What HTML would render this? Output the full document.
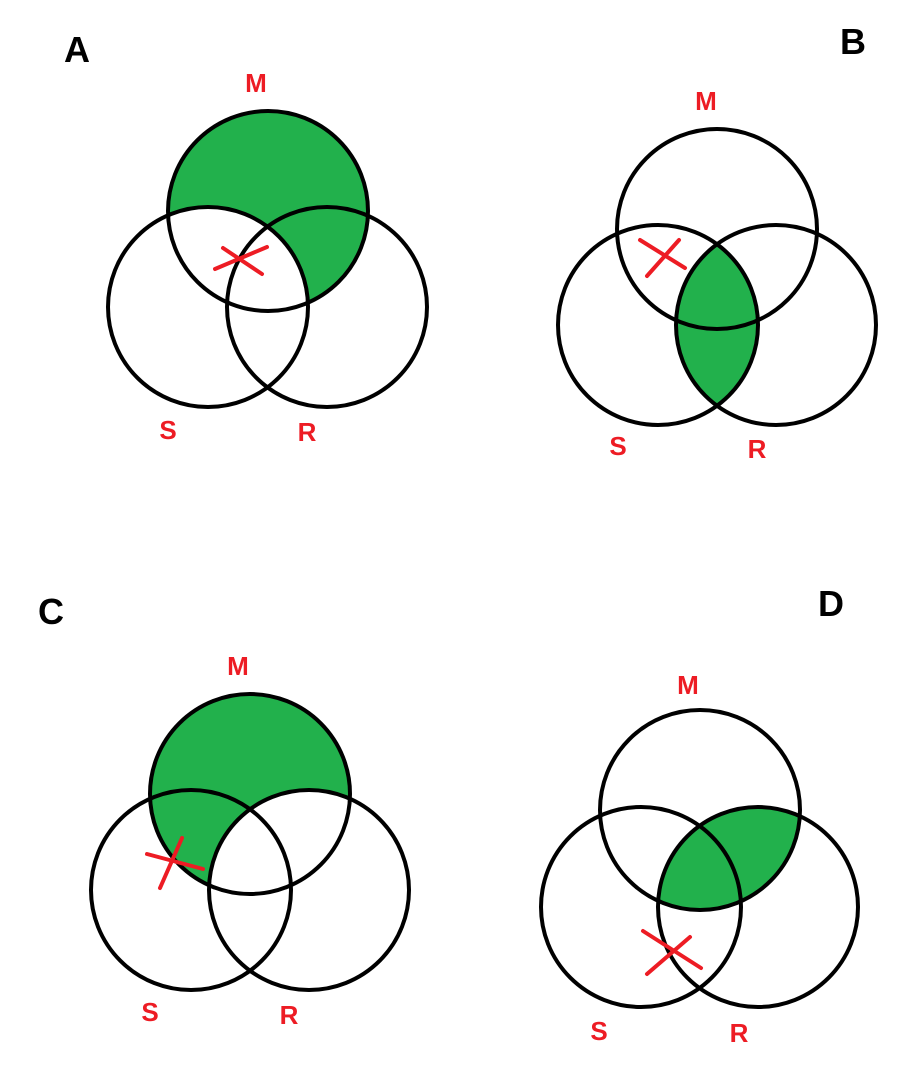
<!DOCTYPE html>
<html><head><meta charset="utf-8"><style>
html,body{margin:0;padding:0;background:#fff;}
svg{display:block;}
text{font-family:"Liberation Sans",Arial,sans-serif;font-weight:bold;}
</style></head><body>
<svg id="s" width="915" height="1079" viewBox="0 0 915 1079"></svg>
<script>
// Panels: circle centers (M, S, R), radius, shading type, X mark
const panelNames = ["A","B","C","D"];
const centersM = [[268,211],[717,229],[250,794],[700,810]];
const centersS = [[208,307],[658,325],[191,890],[641,907]];
const centersR = [[327,307],[776,325],[309,890],[758,907]];
const radius = 100;
const shading = ["M-S","S&R","M-R","M&R"];
const xMarks = [
  [[223,248,262,274],[215,269,267,247]],
  [[640,240,685,268],[647,276,679,240]],
  [[147,854,203,869],[182,838,160,888]],
  [[643,931,701,968],[647,974,690,937]]
];
const letterPos = [[77,62],[853,54],[51,624],[831,616]];
const labelM = [[256,92],[706,110],[238,675],[688,694]];
const labelS = [[168,439],[618,455],[150,1021],[599,1040]];
const labelR = [[307,441],[757,458],[289,1024],[739,1042]];

const NS="http://www.w3.org/2000/svg";
const svg=document.getElementById('s');
function mk(tag,attrs,parent){const e=document.createElementNS(NS,tag);for(const k in attrs)e.setAttribute(k,attrs[k]);(parent||svg).appendChild(e);return e;}
const defs=mk('defs',{});
const GREEN="#22b14c", RED="#ed1c24";
panelNames.forEach((p,i)=>{
  const g=mk('g',{});
  
  
  const C={M:centersM[i],S:centersS[i],R:centersR[i]};
  const sh=shading[i];
  if(sh.includes('-')){
    const [a,b]=sh.split('-');
    const f=mk('circle',{cx:C[a][0],cy:C[a][1],r:radius,fill:GREEN},g);
    
    
    mk('circle',{cx:C[b][0],cy:C[b][1],r:radius,fill:'#fff'},g);
  } else {
    const [a,b]=sh.split('&');
    const cp=mk('clipPath',{id:'cp'+i},defs);
    mk('circle',{cx:C[b][0],cy:C[b][1],r:radius},cp);
    const f=mk('circle',{cx:C[a][0],cy:C[a][1],r:radius,fill:GREEN,'clip-path':'url(#cp'+i+')'},g);
    
    
  }
  ['M','S','R'].forEach(k=>{
    const c=mk('circle',{cx:C[k][0],cy:C[k][1],r:radius,fill:'none',stroke:'#000','stroke-width':4},g);
    
    
  });
  xMarks[i].forEach(l=>{
    const ln=mk('line',{x1:l[0],y1:l[1],x2:l[2],y2:l[3],stroke:RED,'stroke-width':4,'stroke-linecap':'round'},g);
    
    
  });
  const t=mk('text',{x:letterPos[i][0],y:letterPos[i][1],'font-size':36,'text-anchor':'middle',fill:'#000'},g);
  t.textContent=p;
  
  
  [['M',labelM],['S',labelS],['R',labelR]].forEach(([k,arr])=>{
    const lt=mk('text',{x:arr[i][0],y:arr[i][1],'font-size':26,'text-anchor':'middle',fill:RED},g);
    lt.textContent=k;
    
    
  });
});
</script>
</body></html>
